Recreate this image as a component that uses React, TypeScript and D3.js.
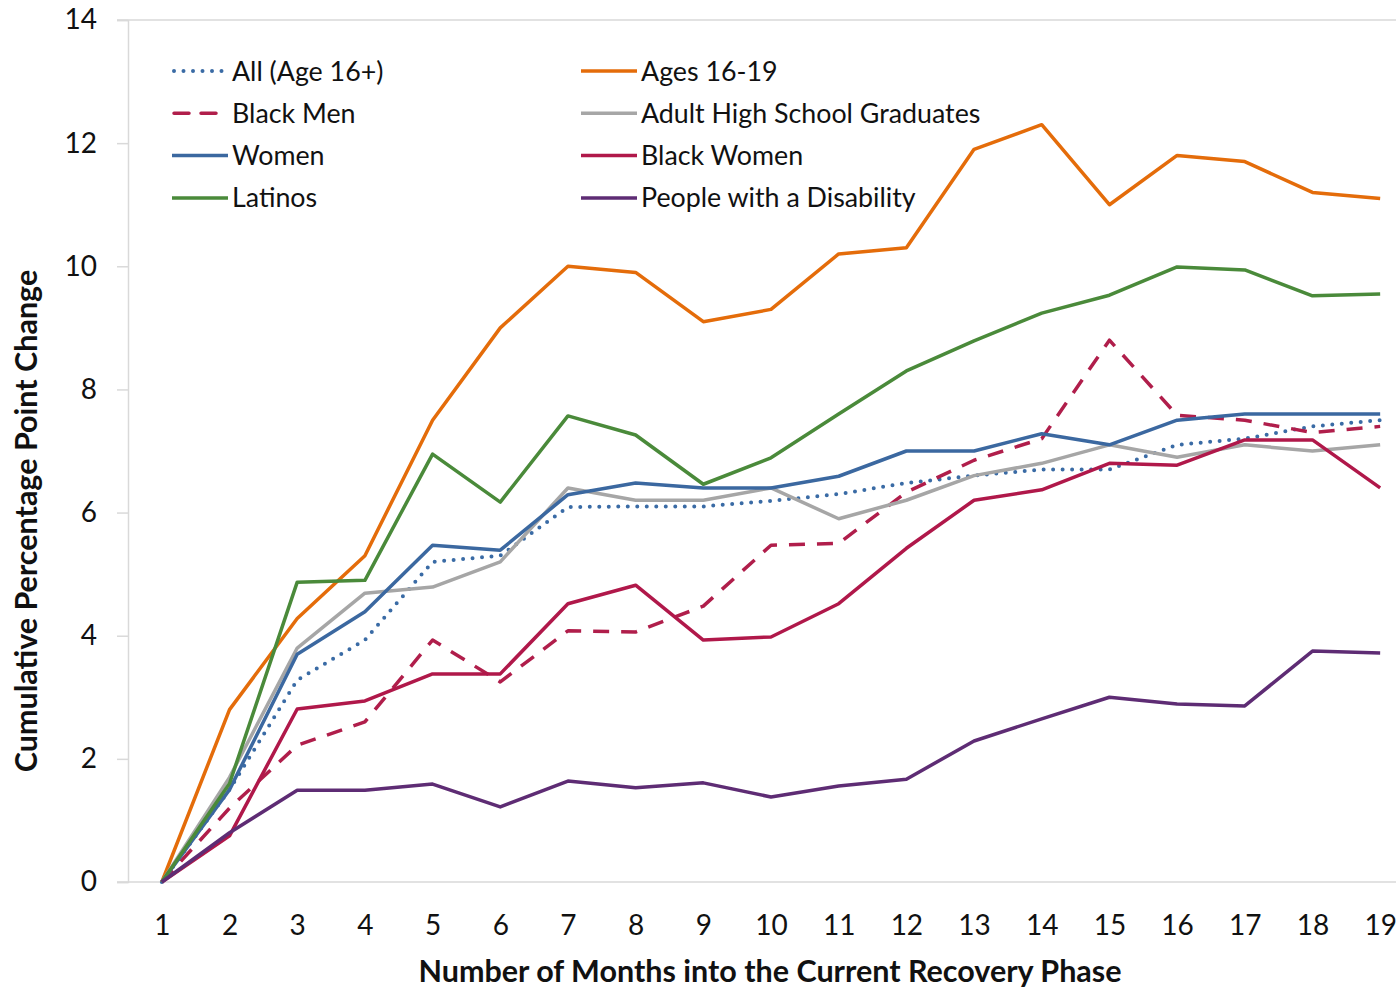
import React, { useEffect, useRef } from 'react';
import * as d3 from 'd3';

const months = [1, 2, 3, 4, 5, 6, 7, 8, 9, 10, 11, 12, 13, 14, 15, 16, 17, 18, 19];
const yTicks = [0, 2, 4, 6, 8, 10, 12, 14];

const allAges = [0, 1.5, 3.28, 3.93, 5.2, 5.3, 6.09, 6.1, 6.1, 6.19, 6.3, 6.48, 6.6, 6.7, 6.7, 7.1, 7.2, 7.4, 7.5];
const ages1619 = [0, 2.8, 4.28, 5.3, 7.5, 9.0, 10.0, 9.9, 9.1, 9.3, 10.2, 10.3, 11.9, 12.3, 11.0, 11.8, 11.7, 11.2, 11.1];
const blackMen = [0, 1.2, 2.22, 2.6, 3.93, 3.25, 4.08, 4.06, 4.48, 5.47, 5.5, 6.33, 6.85, 7.2, 8.8, 7.58, 7.5, 7.3, 7.4];
const hsGrads = [0, 1.7, 3.8, 4.69, 4.79, 5.2, 6.4, 6.2, 6.2, 6.4, 5.9, 6.2, 6.6, 6.8, 7.1, 6.9, 7.1, 7.0, 7.1];
const women = [0, 1.5, 3.7, 4.39, 5.47, 5.39, 6.29, 6.48, 6.4, 6.4, 6.59, 7.0, 7.0, 7.28, 7.1, 7.5, 7.6, 7.6, 7.6];
const blackWomen = [0, 0.75, 2.81, 2.94, 3.38, 3.38, 4.52, 4.82, 3.93, 3.98, 4.52, 5.42, 6.2, 6.37, 6.8, 6.77, 7.18, 7.18, 6.4];
const latinos = [0, 1.6, 4.87, 4.9, 6.95, 6.17, 7.57, 7.26, 6.46, 6.89, 7.6, 8.3, 8.79, 9.24, 9.53, 9.99, 9.94, 9.52, 9.55];
const disability = [0, 0.8, 1.49, 1.49, 1.59, 1.22, 1.64, 1.53, 1.61, 1.38, 1.56, 1.67, 2.29, 2.65, 3.0, 2.89, 2.86, 3.75, 3.72];

const seriesNames = ['All (Age 16+)', 'Ages 16-19', 'Black Men', 'Adult High School Graduates', 'Women', 'Black Women', 'Latinos', 'People with a Disability'];
const seriesValues = [allAges, ages1619, blackMen, hsGrads, women, blackWomen, latinos, disability];
const seriesColors = ['#3A6BA5', '#E46C0A', '#B01E4B', '#A6A6A6', '#3B68A0', '#B0184A', '#4A8A3A', '#5E2C74'];
const seriesDash = ['0 9.5', null, '16 12', null, null, null, null, null];

export default function App() {
  const ref = useRef<SVGSVGElement>(null);

  useEffect(() => {
    if (!ref.current) return;
    const svg = d3.select(ref.current);
    svg.selectAll('*').remove();

    const width = 1396;
    const height = 987;
    const left = 128, top = 20, bottom = 882;
    const font = 'Lato, "Open Sans", sans-serif';
    const ink = '#111';

    const x = d3.scalePoint<number>()
      .domain(months)
      .range([left, left + 1286])
      .padding(0.5);

    const y = d3.scaleLinear()
      .domain([0, 14])
      .range([bottom, top]);

    svg.attr('width', width).attr('height', height);
    svg.append('rect').attr('width', width).attr('height', height).attr('fill', '#fff');

    // top border and x axis line
    svg.append('line')
      .attr('x1', 117).attr('x2', width)
      .attr('y1', y(14)).attr('y2', y(14))
      .attr('stroke', '#D9D9D9').attr('stroke-width', 1.5);
    svg.append('line')
      .attr('x1', 117).attr('x2', width)
      .attr('y1', y(0)).attr('y2', y(0))
      .attr('stroke', '#D9D9D9').attr('stroke-width', 1.5);

    // y axis
    const yAxis = svg.append('g')
      .attr('transform', `translate(${left},0)`)
      .call(d3.axisLeft(y).tickValues(yTicks).tickSize(11).tickPadding(20).tickFormat(d3.format('d')));
    yAxis.select('.domain').attr('stroke', '#D9D9D9').attr('stroke-width', 1.5);
    yAxis.selectAll('.tick line').attr('stroke', '#D9D9D9').attr('stroke-width', 1.5);
    yAxis.selectAll('.tick text')
      .attr('fill', ink).attr('font-size', 28).attr('font-family', font);

    // x axis labels
    const xAxis = svg.append('g')
      .attr('transform', `translate(0,${bottom})`)
      .call(d3.axisBottom(x).tickSize(0).tickPadding(33));
    xAxis.select('.domain').remove();
    xAxis.selectAll('.tick text')
      .attr('fill', ink).attr('font-size', 28).attr('font-family', font);

    // titles
    svg.append('text')
      .attr('x', 770).attr('y', 982)
      .attr('text-anchor', 'middle')
      .attr('font-size', 30.5).attr('font-weight', 'bold')
      .attr('font-family', font).attr('fill', ink)
      .text('Number of Months into the Current Recovery Phase');
    svg.append('text')
      .attr('transform', 'translate(37,521) rotate(-90)')
      .attr('text-anchor', 'middle')
      .attr('font-size', 30.5).attr('font-weight', 'bold')
      .attr('font-family', font).attr('fill', ink)
      .text('Cumulative Percentage Point Change');

    // lines
    const line = d3.line<number>()
      .x((_, i) => x(months[i])!)
      .y(d => y(d));

    seriesValues.forEach((vals, i) => {
      const p = svg.append('path')
        .datum(vals)
        .attr('fill', 'none')
        .attr('stroke', seriesColors[i])
        .attr('stroke-width', 3.5)
        .attr('stroke-linejoin', 'round')
        .attr('d', line);
      if (seriesDash[i]) {
        p.attr('stroke-dasharray', seriesDash[i]!);
        if (i === 0) p.attr('stroke-linecap', 'round').attr('stroke-width', 4);
      }
    });

    // legend
    const legend = svg.append('g');
    seriesNames.forEach((name, i) => {
      const col = i % 2;
      const row = Math.floor(i / 2);
      const lx = col === 0 ? 172 : 581;
      const ly = 71 + row * 42.3;
      const l = legend.append('line')
        .attr('x1', lx).attr('x2', lx + 56)
        .attr('y1', ly).attr('y2', ly)
        .attr('stroke', seriesColors[i])
        .attr('stroke-width', 3.5);
      if (seriesDash[i]) {
        l.attr('stroke-dasharray', seriesDash[i] === '16 12' ? '15 12' : seriesDash[i]!);
        if (i === 0) l.attr('stroke-linecap', 'round').attr('stroke-width', 4).attr('x1', lx + 2);
        else l.attr('stroke-linecap', 'round').attr('x1', lx + 2);
      }
      legend.append('text')
        .attr('x', lx + 60).attr('y', ly + 9.5)
        .attr('font-size', 26.8).attr('font-family', font)
        .attr('fill', ink)
        .text(name);
    });
  }, []);

  return (
    <div style={{ position: 'absolute', left: 0, top: 0 }}>
      <svg ref={ref} width={1396} height={987} style={{ display: 'block' }} />
    </div>
  );
}
